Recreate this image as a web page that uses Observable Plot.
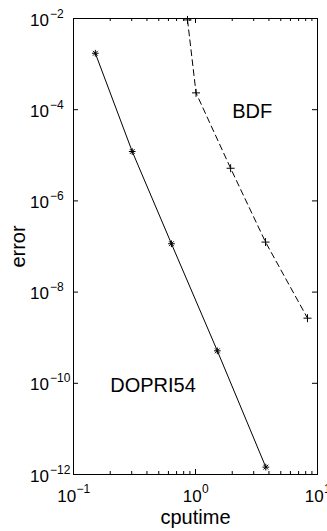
<!DOCTYPE html>
<html>
<head>
<meta charset="utf-8">
<script src="https://cdn.jsdelivr.net/npm/d3@7"></script>
<script src="https://cdn.jsdelivr.net/npm/@observablehq/plot@0.6"></script>
<style>
  html, body { margin: 0; padding: 0; background: #fff; overflow: hidden; }
  #chart svg { display: block; }
</style>
</head>
<body>
<div id="chart"></div>
<script>
// ---- data ----
const dopriTime  = [0.151, 0.303, 0.635, 1.51, 3.77];
const dopriError = [1.73e-3, 1.21e-5, 1.15e-7, 5.15e-10, 1.45e-12];
const bdfTime    = [0.86, 1.01, 1.94, 3.75, 8.28];
const bdfError   = [9.3e-3, 2.34e-4, 5.2e-6, 1.25e-7, 2.68e-9];

const seriesLabels = ["DOPRI54", "BDF"];
const seriesLabelX = [0.2, 2];
const seriesLabelY = [1e-10, 1e-4];

const xTickExponents = [-1, 0, 1];
const yTickExponents = [-12, -10, -8, -6, -4, -2];
const xMinorTicks = [0.2, 0.3, 0.4, 0.5, 0.6, 0.7, 0.8, 0.9, 2, 3, 4, 5, 6, 7, 8, 9];

const xLabel = "cputime";
const yLabel = "error";

// ---- layout ----
const W = 327, H = 531;
const mL = 73, mR = 10, mT = 18, mB = 57;
const innerW = W - mL - mR, innerH = H - mT - mB;
const majorLen = 5, minorLen = 3;
const font = "'Liberation Sans', Arial, Helvetica, sans-serif";

const dopri = dopriTime.map((t, i) => ({t, e: dopriError[i]}));
const bdf = bdfTime.map((t, i) => ({t, e: bdfError[i]}));
const labels = seriesLabels.map((s, i) => ({s, x: seriesLabelX[i], y: seriesLabelY[i]}));
const xMajor = xTickExponents.map(e => 10 ** e);
const yMajor = yTickExponents.map(e => 10 ** e);
const expText = e => (e < 0 ? "\u2212" + (-e) : String(e));

// width estimates for centering x tick labels (10 at 17px, exponent at 12px)
const w10 = 17 * 1.112;
const expWidth = e => 12 * ((e < 0 ? 0.584 : 0) + 0.556 * String(Math.abs(e)).length);

const xTickLabelMarks = xTickExponents.flatMap(e => {
  const end10 = (w10 - expWidth(e)) / 2;
  return [
    Plot.text([e], {x: d => 10 ** d, frameAnchor: "bottom", text: () => "10",
      textAnchor: "end", lineAnchor: "bottom", dx: end10, dy: 27, fontSize: 17}),
    Plot.text([e], {x: d => 10 ** d, frameAnchor: "bottom", text: d => expText(d),
      textAnchor: "start", lineAnchor: "bottom", dx: end10 + 0.5, dy: 18, fontSize: 12})
  ];
});

const chart = Plot.plot({
  width: W,
  height: H,
  marginLeft: mL,
  marginRight: mR,
  marginTop: mT,
  marginBottom: mB,
  style: {fontFamily: font, background: "#fff", color: "#000", overflow: "visible"},
  x: {type: "log", domain: [0.1, 10], axis: null},
  y: {type: "log", domain: [1e-12, 1e-2], axis: null},
  marks: [
    // inward ticks, bottom & top
    Plot.ruleX(xMajor, {insetTop: innerH - majorLen, stroke: "#000"}),
    Plot.ruleX(xMajor, {insetBottom: innerH - majorLen, stroke: "#000"}),
    Plot.ruleX(xMinorTicks, {insetTop: innerH - minorLen, stroke: "#000"}),
    Plot.ruleX(xMinorTicks, {insetBottom: innerH - minorLen, stroke: "#000"}),
    // inward ticks, left & right
    Plot.ruleY(yMajor, {insetRight: innerW - majorLen, stroke: "#000"}),
    Plot.ruleY(yMajor, {insetLeft: innerW - majorLen, stroke: "#000"}),
    // series
    Plot.line(dopri, {x: "t", y: "e", stroke: "#000", strokeWidth: 1}),
    Plot.line(bdf, {x: "t", y: "e", stroke: "#000", strokeWidth: 1, strokeDasharray: "6,4"}),
    Plot.dot(dopri, {x: "t", y: "e", symbol: "plus", r: 2.3, stroke: "#000", strokeWidth: 1}),
    Plot.dot(dopri, {x: "t", y: "e", symbol: "times", r: 2.3, stroke: "#000", strokeWidth: 1}),
    Plot.dot(bdf, {x: "t", y: "e", symbol: "plus", r: 2.7, stroke: "#000", strokeWidth: 1}),
    // in-plot labels
    Plot.text(labels, {x: "x", y: "y", text: "s", textAnchor: "start", lineAnchor: "bottom",
      dy: 8.5, fontSize: 20, fill: "#000"}),
    // y tick labels
    Plot.text(yTickExponents, {y: d => 10 ** d, frameAnchor: "left", text: () => "10",
      textAnchor: "end", lineAnchor: "bottom", dx: -24.5, dy: 7, fontSize: 17}),
    Plot.text(yTickExponents, {y: d => 10 ** d, frameAnchor: "left", text: d => expText(d),
      textAnchor: "start", lineAnchor: "bottom", dx: -23.5, dy: -1, fontSize: 12}),
    // x tick labels
    ...xTickLabelMarks,
    // axis titles
    Plot.text([xLabel], {frameAnchor: "bottom", text: d => d, textAnchor: "middle",
      lineAnchor: "bottom", dy: 49, fontSize: 20}),
    Plot.text([yLabel], {frameAnchor: "left", text: d => d, textAnchor: "middle",
      lineAnchor: "bottom", rotate: -90, dx: -48.5, fontSize: 20}),
    Plot.frame({stroke: "#000", strokeWidth: 1})
  ]
});

document.getElementById("chart").appendChild(chart);
</script>
</body>
</html>
